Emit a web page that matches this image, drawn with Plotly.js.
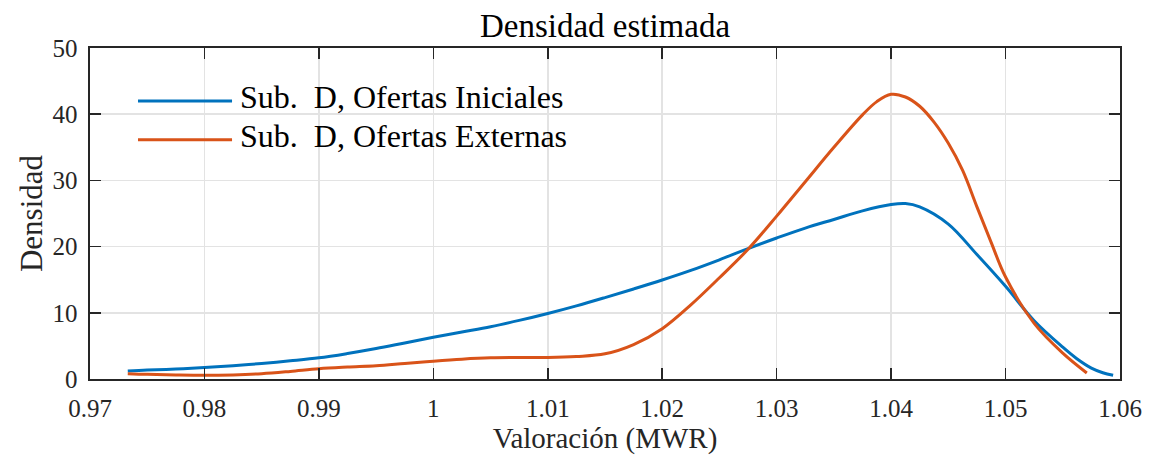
<!DOCTYPE html>
<html>
<head>
<meta charset="utf-8">
<script src="https://cdn.plot.ly/plotly-3.0.1.min.js"></script>
<style>html,body{margin:0;padding:0;background:#fff;}</style>
</head>
<body>
<div id="chart" style="width:1151px;height:458px;"></div>
<script>
// Series: Sub. D, Ofertas Iniciales
const xIniciales = [0.9733, 0.975, 0.9775, 0.98, 0.9825, 0.985, 0.9875, 0.99, 0.9925, 0.995, 0.9975, 1.0, 1.0025, 1.005, 1.0075, 1.01, 1.0125, 1.015, 1.0175, 1.02, 1.0225, 1.025, 1.0275, 1.03, 1.0325, 1.035, 1.0375, 1.04, 1.04125, 1.0425, 1.045, 1.0475, 1.05, 1.0525, 1.055, 1.0562, 1.0575, 1.0585, 1.0594];
const yIniciales = [1.21, 1.35, 1.5, 1.73, 2.0, 2.35, 2.75, 3.2, 3.85, 4.6, 5.45, 6.3, 7.1, 7.9, 8.85, 9.9, 11.05, 12.3, 13.6, 14.95, 16.4, 18.0, 19.7, 21.3, 22.8, 24.1, 25.4, 26.35, 26.5, 26.0, 23.4, 18.8, 14.0, 8.8, 4.8, 3.1, 1.65, 0.95, 0.56];
// Series: Sub. D, Ofertas Externas
const xExternas = [0.9733, 0.975, 0.9775, 0.98, 0.9825, 0.985, 0.9875, 0.99, 0.9925, 0.995, 0.9975, 1.0, 1.0025, 1.005, 1.0075, 1.01, 1.0125, 1.015, 1.0175, 1.02, 1.0225, 1.025, 1.0275, 1.03, 1.0325, 1.035, 1.0375, 1.03875, 1.04, 1.04125, 1.0425, 1.04375, 1.045, 1.04625, 1.0475, 1.04875, 1.05, 1.0525, 1.055, 1.0571];
const yExternas = [0.8, 0.7, 0.6, 0.55, 0.62, 0.8, 1.15, 1.55, 1.8, 2.0, 2.35, 2.7, 3.0, 3.2, 3.25, 3.25, 3.4, 3.8, 5.2, 7.6, 11.2, 15.3, 19.6, 24.6, 29.8, 35.0, 39.9, 41.9, 43.0, 42.6, 41.2, 38.8, 35.6, 31.5, 26.0, 20.6, 15.4, 8.4, 3.9, 0.9];
// Tick labels
const xTickVals = [0.97, 0.98, 0.99, 1.0, 1.01, 1.02, 1.03, 1.04, 1.05, 1.06];
const xTickText = ['0.97', '0.98', '0.99', '1', '1.01', '1.02', '1.03', '1.04', '1.05', '1.06'];
const yTickVals = [0, 10, 20, 30, 40, 50];
const yTickText = ['0', '10', '20', '30', '40', '50'];
const seriesNames = ['Sub.\u00a0\u00a0D, Ofertas Iniciales', 'Sub.\u00a0\u00a0D, Ofertas Externas'];
const seriesColors = ['#0072BD', '#D95319'];

const serif = "'Liberation Serif', 'Times New Roman', serif";
const axisColor = '#262626';
const gridColor = '#e3e3e3';

const traces = [
  {x: xIniciales, y: yIniciales, name: seriesNames[0], type: 'scatter', mode: 'lines',
   line: {color: seriesColors[0], width: 3, shape: 'spline', smoothing: 1}, showlegend: false, hoverinfo: 'skip'},
  {x: xExternas, y: yExternas, name: seriesNames[1], type: 'scatter', mode: 'lines',
   line: {color: seriesColors[1], width: 3, shape: 'spline', smoothing: 1}, showlegend: false, hoverinfo: 'skip'}
];

function axisBase() {
  return {
    showgrid: true, gridcolor: gridColor, gridwidth: 1.5,
    showline: true, linecolor: axisColor, linewidth: 1.6, mirror: 'ticks',
    ticks: 'inside', ticklen: 11, tickwidth: 1.6, tickcolor: axisColor,
    zeroline: false, fixedrange: true,
    tickfont: {family: serif, size: 25, color: axisColor}
  };
}

// manual legend (MATLAB style, long line samples)
const legRows = [0.84, 0.723];
const shapes = [];
const annotations = [];
for (let i = 0; i < seriesNames.length; i++) {
  shapes.push({type: 'line', xref: 'paper', yref: 'paper', x0: 0.0466, x1: 0.1379, y0: legRows[i], y1: legRows[i],
    line: {color: seriesColors[i], width: 3}});
  annotations.push({xref: 'paper', yref: 'paper', x: 0.1435, y: legRows[i] + 0.012, xanchor: 'left', yanchor: 'middle',
    text: seriesNames[i], showarrow: false, font: {family: serif, size: 32, color: '#000'}});
}

const xaxis = axisBase();
Object.assign(xaxis, {
  range: [0.97, 1.06], tickmode: 'array', tickvals: xTickVals, ticktext: xTickText,
  ticklabelstandoff: 6,
  title: {text: 'Valoración (MWR)', font: {family: serif, size: 29, color: axisColor}, standoff: 7}
});
const yaxis = axisBase();
Object.assign(yaxis, {
  range: [0, 50], tickmode: 'array', tickvals: yTickVals, ticktext: yTickText,
  ticklabelstandoff: 6,
  title: {text: 'Densidad', font: {family: serif, size: 31, color: axisColor}, standoff: 0}
});

const layout = {
  width: 1151, height: 458,
  font: {family: serif, color: axisColor},
  margin: {l: 90, r: 31, t: 48, b: 79, pad: 0},
  paper_bgcolor: '#ffffff', plot_bgcolor: '#ffffff',
  title: {text: 'Densidad estimada', font: {family: serif, size: 33, color: '#000'},
          x: 0.5, xref: 'paper', y: 0.945, yref: 'container', yanchor: 'middle'},
  xaxis: xaxis,
  yaxis: yaxis,
  shapes: shapes,
  annotations: annotations,
  showlegend: false
};

Plotly.newPlot('chart', traces, layout, {displayModeBar: false, staticPlot: true});
</script>
</body>
</html>
